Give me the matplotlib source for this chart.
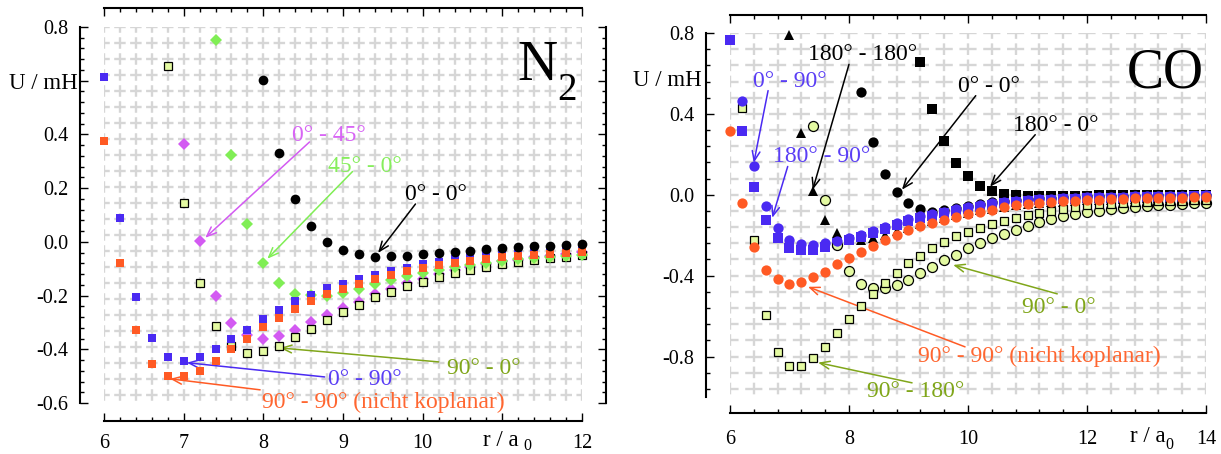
import matplotlib
matplotlib.use('Agg')
import matplotlib.pyplot as plt
import numpy as np
from matplotlib.ticker import MultipleLocator

plt.rcParams['font.family'] = ['Liberation Serif', 'DejaVu Serif']
plt.rcParams['lines.scale_dashes'] = False

# ---------------- data: N2 (left panel) ----------------
n2_r00 = [8.0, 8.2, 8.4, 8.6, 8.8, 9.0, 9.2, 9.4, 9.6, 9.8, 10.0, 10.2, 10.4, 10.6, 10.8, 11.0, 11.2, 11.4, 11.6, 11.8, 12.0]
n2_u00 = [0.603, 0.331, 0.16, 0.06, 0.001, -0.03, -0.046, -0.055, -0.052, -0.052, -0.046, -0.042, -0.036, -0.034, -0.027, -0.024, -0.021, -0.017, -0.015, -0.011, -0.007]

n2_r045 = [7.0, 7.2, 7.4, 7.6, 7.8, 8.0, 8.2, 8.4, 8.6, 8.8, 9.0, 9.2, 9.4, 9.6, 9.8, 10.0, 10.2, 10.4, 10.6, 10.8, 11.0, 11.2, 11.4, 11.6, 11.8, 12.0]
n2_u045 = [0.365, 0.004, -0.20, -0.303, -0.345, -0.363, -0.352, -0.33, -0.299, -0.273, -0.247, -0.224, -0.196, -0.174, -0.153, -0.137, -0.12, -0.106, -0.094, -0.082, -0.073, -0.066, -0.057, -0.051, -0.045, -0.038]

n2_r450 = [7.4, 7.6, 7.8, 8.0, 8.2, 8.4, 8.6, 8.8, 9.0, 9.2, 9.4, 9.6, 9.8, 10.0, 10.2, 10.4, 10.6, 10.8, 11.0, 11.2, 11.4, 11.6, 11.8, 12.0]
n2_u450 = [0.752, 0.324, 0.067, -0.077, -0.155, -0.193, -0.198, -0.2, -0.19, -0.174, -0.158, -0.143, -0.128, -0.116, -0.104, -0.094, -0.085, -0.078, -0.071, -0.065, -0.06, -0.056, -0.052, -0.048]

n2_r900 = [6.8, 7.0, 7.2, 7.4, 7.6, 7.8, 8.0, 8.2, 8.4, 8.6, 8.8, 9.0, 9.2, 9.4, 9.6, 9.8, 10.0, 10.2, 10.4, 10.6, 10.8, 11.0, 11.2, 11.4, 11.6, 11.8, 12.0]
n2_u900 = [0.655, 0.145, -0.154, -0.315, -0.387, -0.412, -0.408, -0.387, -0.356, -0.325, -0.29, -0.26, -0.235, -0.207, -0.185, -0.164, -0.148, -0.131, -0.117, -0.104, -0.092, -0.083, -0.076, -0.067, -0.061, -0.055, -0.048]

n2_r090 = [6.0, 6.2, 6.4, 6.6, 6.8, 7.0, 7.2, 7.4, 7.6, 7.8, 8.0, 8.2, 8.4, 8.6, 8.8, 9.0, 9.2, 9.4, 9.6, 9.8, 10.0, 10.2, 10.4, 10.6, 10.8, 11.0, 11.2, 11.4, 11.6, 11.8, 12.0]
n2_u090 = [0.614, 0.09, -0.206, -0.359, -0.427, -0.442, -0.427, -0.40, -0.362, -0.328, -0.289, -0.255, -0.222, -0.198, -0.172, -0.158, -0.14, -0.124, -0.109, -0.096, -0.084, -0.074, -0.065, -0.057, -0.05, -0.044, -0.039, -0.035, -0.031, -0.028, -0.024]

n2_r9090 = [6.0, 6.2, 6.4, 6.6, 6.8, 7.0, 7.2, 7.4, 7.6, 7.8, 8.0, 8.2, 8.4, 8.6, 8.8, 9.0, 9.2, 9.4, 9.6, 9.8, 10.0, 10.2, 10.4, 10.6, 10.8, 11.0, 11.2, 11.4, 11.6, 11.8, 12.0]
n2_u9090 = [0.376, -0.08, -0.33, -0.454, -0.50, -0.50, -0.48, -0.442, -0.40, -0.36, -0.318, -0.283, -0.25, -0.22, -0.195, -0.175, -0.156, -0.138, -0.122, -0.109, -0.098, -0.087, -0.078, -0.07, -0.063, -0.057, -0.052, -0.048, -0.044, -0.04, -0.036]

# ---------------- data: CO (right panel) ----------------
co_r00 = [8.2, 8.4, 8.6, 8.8, 9.0, 9.2, 9.4, 9.6, 9.8, 10.0, 10.2, 10.4, 10.6, 10.8, 11.0, 11.2, 11.4, 11.6, 11.8, 12.0, 12.2, 12.4, 12.6, 12.8, 13.0, 13.2, 13.4, 13.6, 13.8, 14.0]
co_u00 = [0.508, 0.26, 0.105, 0.012, -0.04, -0.069, -0.085, -0.076, -0.066, -0.056, -0.046, -0.037, -0.03, -0.025, -0.02, -0.017, -0.014, -0.012, -0.01, -0.008, -0.007, -0.006, -0.005, -0.004, -0.004, -0.003, -0.003, -0.002, -0.002, -0.001]

co_r180180 = [7.0, 7.2, 7.4, 7.6, 7.8, 8.0, 8.2, 8.4, 8.6, 8.8, 9.0, 9.2, 9.4, 9.6, 9.8, 10.0, 10.2, 10.4, 10.6, 10.8, 11.0, 11.2, 11.4, 11.6, 11.8, 12.0, 12.2, 12.4, 12.6, 12.8, 13.0, 13.2, 13.4, 13.6, 13.8, 14.0]
co_u180180 = [0.79, 0.305, 0.021, -0.124, -0.19, -0.215, -0.222, -0.212, -0.198, -0.18, -0.162, -0.145, -0.128, -0.113, -0.1, -0.088, -0.077, -0.068, -0.06, -0.053, -0.047, -0.042, -0.038, -0.034, -0.031, -0.028, -0.026, -0.024, -0.022, -0.02, -0.018, -0.017, -0.016, -0.015, -0.014, -0.013]

co_r1800 = [9.2, 9.4, 9.6, 9.8, 10.0, 10.2, 10.4, 10.6, 10.8, 11.0, 11.2, 11.4, 11.6, 11.8, 12.0, 12.2, 12.4, 12.6, 12.8, 13.0, 13.2, 13.4, 13.6, 13.8, 14.0]
co_u1800 = [0.655, 0.424, 0.264, 0.155, 0.095, 0.045, 0.017, 0.004, -0.002, -0.004, -0.005, -0.005, -0.005, -0.004, -0.004, -0.003, -0.003, -0.002, -0.002, -0.002, -0.001, -0.001, 0.0, 0.0, 0.0]

co_r090 = [6.2, 6.4, 6.6, 6.8, 7.0, 7.2, 7.4, 7.6, 7.8, 8.0, 8.2, 8.4, 8.6, 8.8, 9.0, 9.2, 9.4, 9.6, 9.8, 10.0, 10.2, 10.4, 10.6, 10.8, 11.0, 11.2, 11.4, 11.6, 11.8, 12.0, 12.2, 12.4, 12.6, 12.8, 13.0, 13.2, 13.4, 13.6, 13.8, 14.0]
co_u090 = [0.462, 0.144, -0.054, -0.162, -0.222, -0.244, -0.246, -0.24, -0.228, -0.212, -0.198, -0.177, -0.157, -0.14, -0.121, -0.107, -0.094, -0.083, -0.071, -0.061, -0.051, -0.043, -0.036, -0.031, -0.026, -0.022, -0.019, -0.016, -0.014, -0.012, -0.011, -0.01, -0.009, -0.008, -0.007, -0.006, -0.005, -0.005, -0.004, -0.003]

co_r18090 = [6.0, 6.2, 6.4, 6.6, 6.8, 7.0, 7.2, 7.4, 7.6, 7.8, 8.0, 8.2, 8.4, 8.6, 8.8, 9.0, 9.2, 9.4, 9.6, 9.8, 10.0, 10.2, 10.4, 10.6, 10.8, 11.0, 11.2, 11.4, 11.6, 11.8, 12.0, 12.2, 12.4, 12.6, 12.8, 13.0, 13.2, 13.4, 13.6, 13.8, 14.0]
co_u18090 = [0.764, 0.317, 0.038, -0.124, -0.215, -0.262, -0.272, -0.272, -0.256, -0.24, -0.225, -0.208, -0.188, -0.168, -0.15, -0.131, -0.117, -0.103, -0.091, -0.079, -0.069, -0.059, -0.05, -0.043, -0.037, -0.032, -0.028, -0.025, -0.022, -0.02, -0.018, -0.016, -0.015, -0.014, -0.013, -0.012, -0.011, -0.01, -0.009, -0.008, -0.008]

co_r9090 = [6.0, 6.2, 6.4, 6.6, 6.8, 7.0, 7.2, 7.4, 7.6, 7.8, 8.0, 8.2, 8.4, 8.6, 8.8, 9.0, 9.2, 9.4, 9.6, 9.8, 10.0, 10.2, 10.4, 10.6, 10.8, 11.0, 11.2, 11.4, 11.6, 11.8, 12.0, 12.2, 12.4, 12.6, 12.8, 13.0, 13.2, 13.4, 13.6, 13.8, 14.0]
co_u9090 = [0.314, -0.043, -0.256, -0.37, -0.418, -0.44, -0.432, -0.408, -0.38, -0.342, -0.312, -0.282, -0.253, -0.226, -0.198, -0.174, -0.154, -0.139, -0.124, -0.108, -0.095, -0.084, -0.073, -0.062, -0.052, -0.045, -0.04, -0.036, -0.033, -0.03, -0.026, -0.024, -0.022, -0.02, -0.018, -0.017, -0.016, -0.015, -0.014, -0.013, -0.012]

co_r900 = [7.4, 7.6, 7.8, 8.0, 8.2, 8.4, 8.6, 8.8, 9.0, 9.2, 9.4, 9.6, 9.8, 10.0, 10.2, 10.4, 10.6, 10.8, 11.0, 11.2, 11.4, 11.6, 11.8, 12.0, 12.2, 12.4, 12.6, 12.8, 13.0, 13.2, 13.4, 13.6, 13.8, 14.0]
co_u900 = [0.338, -0.027, -0.25, -0.378, -0.44, -0.463, -0.463, -0.446, -0.42, -0.388, -0.355, -0.324, -0.296, -0.265, -0.238, -0.214, -0.192, -0.172, -0.152, -0.134, -0.119, -0.106, -0.095, -0.086, -0.078, -0.071, -0.065, -0.06, -0.056, -0.052, -0.049, -0.046, -0.043, -0.041]

co_r90180 = [6.2, 6.4, 6.6, 6.8, 7.0, 7.2, 7.4, 7.6, 7.8, 8.0, 8.2, 8.4, 8.6, 8.8, 9.0, 9.2, 9.4, 9.6, 9.8, 10.0, 10.2, 10.4, 10.6, 10.8, 11.0, 11.2, 11.4, 11.6, 11.8, 12.0, 12.2, 12.4, 12.6, 12.8, 13.0, 13.2, 13.4, 13.6, 13.8, 14.0]
co_u90180 = [0.429, -0.222, -0.594, -0.776, -0.845, -0.845, -0.809, -0.751, -0.685, -0.615, -0.548, -0.49, -0.435, -0.385, -0.338, -0.302, -0.264, -0.233, -0.206, -0.182, -0.163, -0.143, -0.128, -0.115, -0.102, -0.089, -0.078, -0.068, -0.06, -0.053, -0.048, -0.044, -0.041, -0.038, -0.035, -0.033, -0.031, -0.029, -0.028, -0.026]

# tick labels
n2_xticks = [6, 7, 8, 9, 10, 11, 12]
n2_xlabels = ['6', '7', '8', '9', '10', '', '12']
n2_yticks = [-0.6, -0.4, -0.2, 0.0, 0.2, 0.4, 0.6, 0.8]
n2_ylabels = ['-0.6', '-0.4', '-0.2', '0.0', '0.2', '0.4', '', '0.8']
co_xticks = [6, 8, 10, 12, 14]
co_xlabels = ['6', '8', '10', '12', '14']
co_yticks = [-0.8, -0.4, 0.0, 0.4, 0.8]
co_ylabels = ['-0.8', '-0.4', '0.0', '0.4', '0.8']

# ---------------- style ----------------
BLUE = '#4a2af2'
ORANGE = '#ff5a24'
MAGENTA = '#d35af2'
GREEN = '#80ee55'
YELLOW = '#e4faa2'
OLIVE = '#80a61a'
BLUE_T = '#5a3ef5'
ORANGE_T = '#ff6630'
MAGENTA_T = '#d865f5'
GREEN_T = '#86ee5c'
GRID = '#d6d6d6'

W, H, DPI = 1221, 454, 100
PX = 72.0 / DPI

fig = plt.figure(figsize=(W / DPI, H / DPI), dpi=DPI)


def axes_px(x0, y0, x1, y1):
    return fig.add_axes([x0 / W, 1 - y1 / H, (x1 - x0) / W, (y1 - y0) / H])


def ftext(x, y, s, size, **kw):
    fig.text(x / W, 1 - y / H, s, fontsize=size, va='baseline', **kw)


def setup(ax, xlim, ylim, xt, xl, yt, yl, xminor, yminor, outs, right, xpad):
    ax.set_xlim(*xlim)
    ax.set_ylim(*ylim)
    ax.set_facecolor('none')
    for side, o in outs.items():
        ax.spines[side].set_position(('outward', o * PX))
        ax.spines[side].set_linewidth(1.5)
    if not right:
        ax.spines['right'].set_visible(False)
    ax.set_xticks(xt, labels=xl)
    ax.set_yticks(yt, labels=yl)
    ax.xaxis.set_minor_locator(MultipleLocator(xminor))
    ax.yaxis.set_minor_locator(MultipleLocator(yminor))
    ax.tick_params(which='both', direction='in', top=True, right=right,
                   width=1.0, labelsize=14.5)
    ax.tick_params(which='major', length=5.5)
    ax.tick_params(which='minor', length=3)
    ax.tick_params(axis='y', pad=8.6)
    ax.tick_params(axis='x', pad=xpad)


def grid(ax, xs, ys, xlim, ylim, hcell, vcell):
    on_h = hcell * 0.72
    on_v = vcell * 0.72
    ax.hlines(ys, xlim[0], xlim[1], colors=GRID, linewidths=1.7,
              linestyles=(on_h / 2 * PX, (on_h * PX, (hcell - on_h) * PX)), zorder=0.5)
    ax.vlines(xs, ylim[1], ylim[0], colors=GRID, linewidths=1.7,
              linestyles=(on_v / 2 * PX, (on_v * PX, (vcell - on_v) * PX)), zorder=0.5)


def pts(ax, x, y, marker, ms, fc, ec=None, mew=0.0, z=3):
    ax.plot(x, y, linestyle='none', marker=marker, ms=ms, mfc=fc,
            mec=ec if ec else fc, mew=mew, clip_on=False, zorder=z)


def arrow(ax, start, tip, color):
    ax.annotate('', xy=tip, xytext=start, annotation_clip=False,
                arrowprops=dict(arrowstyle='->,head_length=0.7,head_width=0.28',
                                color=color, lw=1.1, shrinkA=0, shrinkB=0))


def label(ax, x, y, s, color):
    ax.text(x, y, s, color=color, fontsize=17, ha='left', va='baseline', clip_on=False)


# ---------------- left panel: N2 ----------------
ax1 = axes_px(104, 27, 582, 403)
xl1, yl1 = (6, 12), (-0.6, 0.8)
setup(ax1, xl1, yl1, n2_xticks, n2_xlabels, n2_yticks, n2_ylabels, 0.2, 0.04,
      {'left': 24, 'bottom': 18, 'top': 19, 'right': 24}, True, 9.6)
grid(ax1, np.arange(6.0, 12.001, 0.2), 0.8 - 16 / 268.6 * np.arange(0, 24), xl1, yl1,
     15.94, 16.0)

pts(ax1, n2_r045, n2_u045, 'D', 6.0, MAGENTA, z=3)
pts(ax1, n2_r900, n2_u900, 's', 5.8, YELLOW, 'black', 0.9, z=4)
pts(ax1, n2_r450, n2_u450, 'D', 6.0, GREEN, z=5)
pts(ax1, n2_r090, n2_u090, 's', 6.4, BLUE, z=6)
pts(ax1, n2_r9090, n2_u9090, 's', 6.4, ORANGE, z=7)
pts(ax1, n2_r00, n2_u00, 'o', 7.0, 'black', z=8)

label(ax1, 8.36, 0.375, '0° - 45°', MAGENTA_T)
arrow(ax1, (8.58, 0.372), (7.27, 0.015), MAGENTA)
label(ax1, 8.81, 0.259, '45° - 0°', GREEN_T)
arrow(ax1, (9.12, 0.262), (8.05, -0.063), GREEN)
label(ax1, 9.78, 0.156, '0° - 0°', 'black')
arrow(ax1, (9.91, 0.141), (9.44, -0.041), 'black')
label(ax1, 10.30, -0.491, '90° - 0°', OLIVE)
arrow(ax1, (10.2, -0.447), (8.21, -0.395), OLIVE)
label(ax1, 8.81, -0.532, '0° - 90°', BLUE_T)
arrow(ax1, (8.77, -0.503), (7.04, -0.45), BLUE)
label(ax1, 7.98, -0.617, '90° - 90° (nicht koplanar)', ORANGE_T)
arrow(ax1, (7.96, -0.551), (6.83, -0.51), ORANGE)

ftext(517, 80, 'N', 40)
ftext(557, 100, '2', 28)
ftext(78, 89, 'U / mH', 16.5, ha='right')
ftext(483, 446, 'r / a', 16.5)
ftext(523, 450, '0', 11.5)

# ---------------- right panel: CO ----------------
ax2 = axes_px(730, 33, 1206, 397)
xl2, yl2 = (6, 14), (-1.0, 0.8)
setup(ax2, xl2, yl2, co_xticks, co_xlabels, co_yticks, co_ylabels, 0.4, 0.08,
      {'left': 24, 'bottom': 16, 'top': 18}, False, 12.5)
grid(ax2, np.arange(6.0, 14.001, 0.4), 0.8 - 0.08 * np.arange(0, 23), xl2, yl2,
     23.8, 16.16)

pts(ax2, co_r1800, co_u1800, 's', 6.6, 'black', z=3)
pts(ax2, co_r00, co_u00, 'o', 7.4, 'black', z=3)
pts(ax2, co_r180180, co_u180180, '^', 7.6, 'black', z=3)
pts(ax2, co_r18090, co_u18090, 's', 6.6, BLUE, z=4)
pts(ax2, co_r900, co_u900, 'o', 7.2, YELLOW, 'black', 0.9, z=5)
pts(ax2, co_r90180, co_u90180, 's', 6.4, YELLOW, 'black', 0.9, z=6)
pts(ax2, co_r090, co_u090, 'o', 7.4, BLUE, z=7)
pts(ax2, co_r9090, co_u9090, 'o', 7.4, ORANGE, z=8)

label(ax2, 6.39, 0.533, '0° - 90°', BLUE_T)
arrow(ax2, (6.64, 0.515), (6.40, 0.158), BLUE)
label(ax2, 6.72, 0.16, '180° - 90°', BLUE_T)
arrow(ax2, (6.97, 0.14), (6.71, -0.114), BLUE)
label(ax2, 7.31, 0.665, '180° - 180°', 'black')
arrow(ax2, (8.0, 0.645), (7.39, 0.025), 'black')
label(ax2, 9.83, 0.506, '0° - 0°', 'black')
arrow(ax2, (10.13, 0.49), (8.89, 0.025), 'black')
label(ax2, 10.76, 0.317, '180° - 0°', 'black')
arrow(ax2, (11.13, 0.297), (10.37, 0.04), 'black')
label(ax2, 10.91, -0.583, '90° - 0°', OLIVE)
arrow(ax2, (11.5, -0.49), (9.75, -0.347), OLIVE)
label(ax2, 9.16, -0.825, '90° - 90° (nicht koplanar)', ORANGE_T)
arrow(ax2, (9.95, -0.752), (7.31, -0.455), ORANGE)
label(ax2, 8.30, -0.998, '90° - 180°', OLIVE)
arrow(ax2, (9.06, -0.93), (7.48, -0.83), OLIVE)

ftext(1204, 88, 'CO', 40, ha='right')
ftext(702, 86, 'U / mH', 16.5, ha='right')
ftext(1130, 442, 'r / a', 16.5)
ftext(1165, 449, '0', 11.5)

fig.savefig('out.png', dpi=DPI)
